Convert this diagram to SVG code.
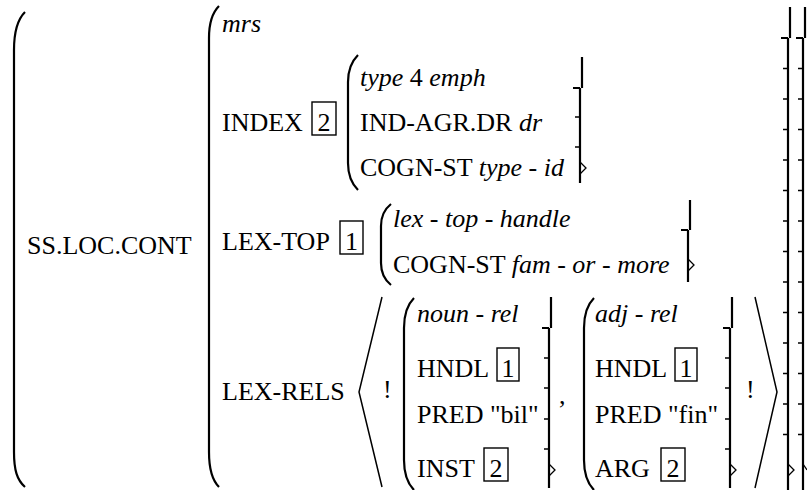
<svg xmlns="http://www.w3.org/2000/svg" width="807" height="490" viewBox="0 0 807 490">
<defs>
<style>
text{font-family:'Liberation Serif','Times New Roman',serif;font-size:26px;fill:#000}
.it{font-style:italic}
.num{text-anchor:middle}
.br{fill:none;stroke:#000;stroke-width:2.2}
.tk{fill:none;stroke:#000;stroke-width:1.3}
.box{fill:none;stroke:#000;stroke-width:1.4}
.ang{fill:none;stroke:#000;stroke-width:1.5}
</style>
</defs>
<rect width="807" height="490" fill="#fff"/>
<g id="brackets">
  <path class="br" d="M25,12 C17,20 14,32 14,50 V452 C14,470 17,480 25,487"/>
  <path class="br" d="M219,6 C212,13 209,22 209,38 V452 C209,470 212,480 219,487"/>
  <path class="br" d="M358,55 Q348,65 348,82 V163 Q348,180 358,190"/>
  <path class="br" d="M391,204 Q381,212 381,226 V263 Q381,277 391,285"/>
  <path class="br" d="M414,298 Q404,308 404,328 V460 Q404,480 414,490"/>
  <path class="br" d="M594,298 Q584,308 584,328 V460 Q584,480 594,490"/>
  <path class="br" d="M790,7 V38 M788,38 V490 M788,38 H781"/>
  <path class="tk" d="M788,68.5H783M788,99H783M788,129.5H783M788,160H783M788,190.5H783M788,221H783M788,251.5H783M788,282H783M788,312.5H783M788,343H783M788,373.5H783M788,404H783M788,434.5H783M788,464L794,470L788,476"/>
  <path class="br" d="M805,7 V38 M803,38 V490 M803,38 H796"/>
  <path class="tk" d="M803,68.5H798M803,99H798M803,129.5H798M803,160H798M803,190.5H798M803,221H798M803,251.5H798M803,282H798M803,312.5H798M803,343H798M803,373.5H798M803,404H798M803,434.5H798M803,464L807,470"/>
  <path class="br" d="M582,57 V88 M580,88 V183 M580,88 H573"/>
  <path class="tk" d="M580,117H575M580,147H575M580,162L586,168L580,174"/>
  <path class="br" d="M690,200 V230 M688,230 V282 M688,230 H681"/>
  <path class="tk" d="M688,259L694,265L688,271"/>
  <path class="br" d="M551,297 V328 M549,328 V488 M549,328 H542"/>
  <path class="tk" d="M549,358H544M549,388H544M549,419H544M549,449H544M549,464L555,470L549,476"/>
  <path class="br" d="M732,297 V328 M730,328 V488 M730,328 H723"/>
  <path class="tk" d="M730,358H725M730,388H725M730,419H725M730,449H725M730,464L736,470L730,476"/>
  <path class="ang" d="M382,297 L359,392 L382,487"/>
  <path class="ang" d="M755,297 L777,392 L755,488"/>
</g>
<g id="outer" font-family="Liberation Serif" font-size="26">
  <text x="27" y="254">SS.LOC.CONT</text>
</g>
<g id="mrs-row" font-family="Liberation Serif" font-size="26">
  <text class="it" x="222" y="32">mrs</text>
</g>
<g id="index-row" font-family="Liberation Serif" font-size="26">
  <text x="222" y="131">INDEX</text>
  <rect class="box" x="312" y="102" width="24" height="33"/>
  <text class="num" x="324" y="131">2</text>
  <text x="360" y="86"><tspan class="it">type</tspan> 4 <tspan class="it">emph</tspan></text>
  <text x="360" y="131">IND-AGR.DR <tspan class="it">dr</tspan></text>
  <text x="360" y="176">COGN-ST <tspan class="it">type - id</tspan></text>
</g>
<g id="lextop-row" font-family="Liberation Serif" font-size="26">
  <text x="222" y="250">LEX-TOP</text>
  <rect class="box" x="340" y="221" width="23" height="33"/>
  <text class="num" x="351.5" y="250">1</text>
  <text class="it" x="393" y="227">lex - top - handle</text>
  <text x="393" y="273">COGN-ST <tspan class="it">fam - or - more</tspan></text>
</g>
<g id="lexrels-row" font-family="Liberation Serif" font-size="26">
  <text x="222" y="400">LEX-RELS</text>
  <text x="383" y="398">!</text>
  <text x="746" y="398">!</text>
  <text x="559" y="404">,</text>
</g>
<g id="noun-rel" font-family="Liberation Serif" font-size="26">
  <text class="it" x="417" y="322">noun - rel</text>
  <text x="417" y="377">HNDL</text>
  <rect class="box" x="497" y="348" width="22" height="33"/>
  <text class="num" x="508" y="377">1</text>
  <text x="417" y="423">PRED "bil"</text>
  <text x="417" y="477">INST</text>
  <rect class="box" x="484" y="448" width="24" height="33"/>
  <text class="num" x="496" y="477">2</text>
</g>
<g id="adj-rel" font-family="Liberation Serif" font-size="26">
  <text class="it" x="595" y="322">adj - rel</text>
  <text x="595" y="377">HNDL</text>
  <rect class="box" x="675" y="348" width="22" height="33"/>
  <text class="num" x="686" y="377">1</text>
  <text x="595" y="423">PRED "fin"</text>
  <text x="595" y="477">ARG</text>
  <rect class="box" x="661" y="448" width="24" height="33"/>
  <text class="num" x="673" y="477">2</text>
</g>
</svg>
